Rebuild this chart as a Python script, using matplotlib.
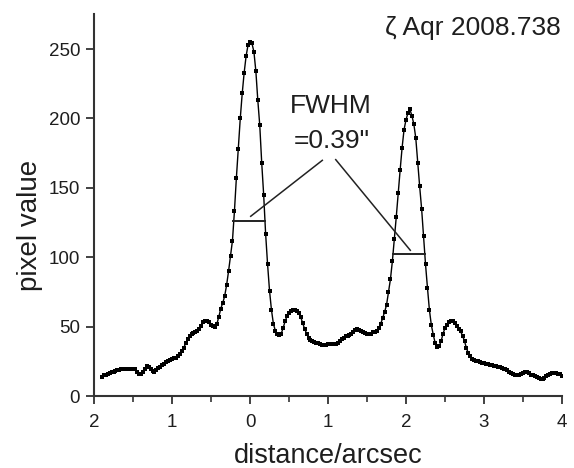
import numpy as np
import matplotlib
matplotlib.use('Agg')
import matplotlib.pyplot as plt

plt.rcParams['font.family'] = ['Liberation Sans', 'DejaVu Sans']

# intensity profile, one sample every 0.025 arcsec starting at -1.9
x_start = -1.9
x_step = 0.025
pixel_value = [
    14, 14.8, 15.5, 16, 16.5, 17, 17.5, 17.9,          # -1.900
    18.4, 18.9, 19.3, 19.5, 19.6, 19.7, 19.6, 19.5,    # -1.700
    19.3, 19.2, 17, 15.8, 15.8, 17.5, 19.8, 21.6,      # -1.500
    21, 19.5, 18, 17.5, 18.5, 20, 21.1, 22.4,          # -1.300
    23.4, 24.3, 25.1, 25.8, 26.5, 27.1, 27.6, 28.8,    # -1.100
    30.5, 32.5, 34.8, 37.9, 41, 43.5, 45, 45.5,        # -0.900
    46, 47, 48.3, 50.5, 53, 54.2, 54.3, 53,            # -0.700
    51, 50.2, 50, 52, 57, 63, 67, 72,                  # -0.500
    80, 90, 101, 112, 133, 157, 178, 200,              # -0.300
    218, 233, 245, 253, 255, 254, 248, 234,            # -0.100
    213, 195, 168, 145, 117, 95, 76, 62,               #  0.100
    52, 47, 45, 44, 45, 49, 54, 57.5,                  #  0.300
    60, 61.5, 62.3, 62.3, 61, 59.5, 57, 52.5,          #  0.500
    48.5, 45, 42, 40.5, 39.5, 39, 38.5, 38,            #  0.700
    37.5, 37, 36.5, 36.8, 37.2, 37.6, 37.5, 37.4,      #  0.900
    37.6, 38.4, 39.3, 40.8, 42, 43, 43.5, 43.9,        #  1.100
    45, 46.3, 47.3, 48, 47.8, 47, 46.3, 45.5,          #  1.300
    45, 44.8, 45, 45.8, 46.3, 47, 49, 52,              #  1.500
    56, 60.5, 65.5, 75, 84, 97, 113, 129,              #  1.700
    146, 163, 179, 192, 199, 204, 206.5, 202,          #  1.900
    196, 186, 168, 151, 135, 115, 95, 78,              #  2.100
    62, 51, 44, 38, 35.5, 36, 39.5, 45,                #  2.300
    49, 51.3, 53.5, 54.2, 54, 52.5, 50.5, 48.5,        #  2.500
    46.5, 43.5, 39.5, 34.5, 30.7, 28.5, 27, 26.2,      #  2.700
    25.5, 25, 24.5, 24, 23.5, 23.1, 22.9, 22.6,        #  2.900
    22.3, 21.8, 21.3, 21, 20.7, 20.4, 19.8, 19.2,      #  3.100
    18.4, 17.4, 16.5, 15.8, 15.2, 15.1, 15.4, 15.8,    #  3.300
    16.4, 17.2, 17.3, 16.4, 15.4, 14.8, 14.1, 13.4,    #  3.500
    12.8, 12.2, 12, 12.8, 14.2, 15.3, 16.2, 16.3,      #  3.700
    16.3, 16.3, 16.2, 16, 14.5,                        #  3.900
]
distance = x_start + x_step * np.arange(len(pixel_value))

x_ticks = [-2, -1, 0, 1, 2, 3, 4]
x_tick_labels = ['2', '1', '0', '1', '2', '3', '4']
y_ticks = [0, 50, 100, 150, 200, 250]

# FWHM bars (left, right, level) and pointer lines from the label
fwhm_bars = [(-0.214, 0.192, 125.9), (1.837, 2.244, 102.2)]
pointers = [((0.927, 169.8), (0.009, 129.5)),
            ((1.099, 170.3), (2.055, 105.0))]

axis_col = '#333333'
text_col = '#1e1e1e'

fig = plt.figure(figsize=(5.74, 4.68), dpi=100)
ax = fig.add_axes([0.1638, 0.1538, 0.8153, 0.8156])

ax.plot(distance, pixel_value, color='black', lw=1.0,
        marker='s', markersize=2.8, markeredgewidth=0)

for x0, x1, lev in fwhm_bars:
    ax.plot([x0, x1], [lev, lev], color='#222222', lw=1.4)
for (xa, ya), (xb, yb) in pointers:
    ax.plot([xa, xb], [ya, yb], color='#222222', lw=1.1)

ax.text(1.038, 203.6, 'FWHM', fontsize=19, color=text_col,
        ha='center', va='baseline')
ax.text(1.045, 178.4, '=0.39"', fontsize=19, color=text_col,
        ha='center', va='baseline')

ax.set_xlim(-2, 4)
ax.set_ylim(0, 275)
ax.set_xticks(x_ticks)
ax.set_xticklabels(x_tick_labels)
ax.set_xticks(np.arange(-1.5, 4, 1.0), minor=True)
ax.set_yticks(y_ticks)

for side in ['top', 'right']:
    ax.spines[side].set_visible(False)
for side in ['left', 'bottom']:
    ax.spines[side].set_color(axis_col)
    ax.spines[side].set_linewidth(1.5)

ax.tick_params(which='major', direction='out', length=6, width=1.3,
               color=axis_col, labelcolor=text_col, labelsize=13.5, pad=4)
ax.tick_params(axis='x', which='major', pad=7)
ax.tick_params(which='minor', direction='out', length=4, width=1.2,
               color=axis_col)

fig.text(328 / 574, 1 - 463 / 468, 'distance/arcsec', fontsize=19.5,
         color=text_col, ha='center', va='baseline')
fig.text(30 / 574, 1 - 225 / 468, 'pixel value', fontsize=20,
         color=text_col, ha='center', va='center', rotation=90)
fig.text(385 / 574, 1 - 35 / 468, 'ζ Aqr 2008.738', fontsize=19,
         color=text_col, ha='left', va='baseline')

fig.savefig('out.png', dpi=100)
